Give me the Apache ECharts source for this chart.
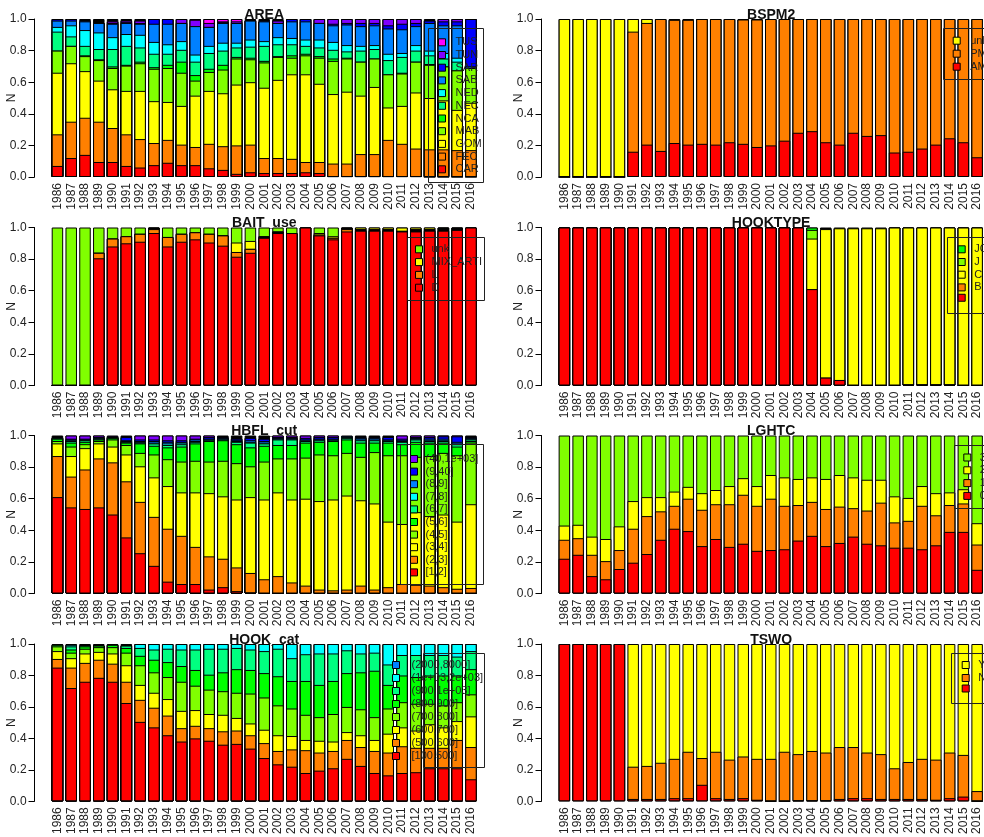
<!DOCTYPE html>
<html><head><meta charset="utf-8">
<script src="https://cdn.jsdelivr.net/npm/echarts@6/dist/echarts.min.js"></script>
<style>html,body{margin:0;padding:0;background:#fff}#c{width:984px;height:837px}</style>
</head><body><div id="c"></div>
<script>
// ---------- categories / ticks ----------
const years = ['1986','1987','1988','1989','1990','1991','1992','1993','1994','1995','1996','1997','1998','1999','2000','2001','2002','2003','2004','2005','2006','2007','2008','2009','2010','2011','2012','2013','2014','2015','2016'];
const yTicks = [0, 0.2, 0.4, 0.6, 0.8, 1.0];

// All series values are cumulative shares: the top edge of each stacked segment (bottom -> top)
const FULL = [1,1,1,1,1,1,1,1,1,1,1,1,1,1,1,1,1,1,1,1,1,1,1,1,1,1,1,1,1,1,1];

// ---------- AREA ----------
const AREA_CAR = [.07,.12,.14,.095,.095,.07,.06,.075,.09,.075,.075,.055,.045,.02,.03,.025,.025,.025,.03,.025,.005,.005,.005,.005,.005,.005,.005,0,0,0,0];
const AREA_FEC = [.27,.35,.375,.35,.31,.27,.24,.215,.235,.205,.19,.21,.195,.20,.205,.12,.12,.115,.095,.095,.085,.085,.145,.145,.235,.21,.18,.175,.175,.17,.17];
const AREA_GOM = [.66,.72,.67,.61,.555,.545,.545,.48,.475,.45,.515,.545,.53,.585,.60,.565,.615,.65,.65,.59,.525,.54,.515,.57,.44,.45,.535,.50,.485,.425,.47];
const AREA_MAB = [.80,.83,.765,.74,.69,.705,.72,.685,.69,.66,.61,.665,.68,.75,.745,.725,.76,.755,.77,.755,.735,.75,.73,.75,.65,.655,.73,.71,.70,.675,.69];
const AREA_NCA = [.80,.83,.77,.745,.70,.71,.73,.695,.71,.73,.645,.685,.71,.76,.755,.735,.765,.77,.78,.765,.75,.755,.73,.75,.65,.66,.73,.715,.70,.675,.69];
const AREA_NEC = [.92,.89,.83,.81,.81,.83,.82,.78,.78,.805,.73,.785,.80,.82,.825,.83,.84,.84,.83,.82,.805,.795,.80,.81,.74,.76,.80,.77,.75,.73,.69];
const AREA_NED = [.95,.96,.93,.915,.885,.905,.90,.855,.84,.86,.775,.83,.85,.85,.87,.86,.885,.88,.87,.87,.855,.835,.83,.835,.78,.785,.835,.80,.785,.755,.69];
const AREA_SAB = [.99,.99,.985,.975,.97,.975,.97,.97,.97,.975,.955,.95,.975,.975,.99,.985,.975,.985,.985,.975,.96,.965,.955,.96,.94,.935,.955,.975,.96,.96,.70];
const AREA_SAR = [1,1,.985,.975,.975,.98,.975,1,1,.975,.955,.95,.98,.975,.99,.985,.975,1,1,.975,.97,.975,.975,.975,.96,.97,.975,.99,.985,.985,1];
const AREA_TUN = [1,1,.985,.975,.985,.99,.99,1,1,1,.995,.975,.985,.985,.99,.985,.99,1,1,1,1,1,1,1,1,1,1,.99,1,1,1];
const AREA_TUS = [1,1,.985,.975,.985,.99,.99,1,1,1,1,1,1,1,.99,.985,.99,1,1,1,1,1,1,1,1,1,1,.99,1,1,1];

// ---------- BSPM2 ----------
const BSPM2_AM  = [0,0,0,0,0,.16,.205,.165,.215,.205,.21,.205,.22,.21,.19,.20,.23,.28,.29,.22,.205,.28,.26,.265,.155,.16,.18,.205,.245,.22,.125];
const BSPM2_PM  = [0,0,0,0,0,.92,.975,1,.995,.995,1,1,1,.997,.997,1,1,1,1,1,1,1,1,1,1,1,1,1,1,1,1];
const BSPM2_unk = [1,1,1,1,1,1,1,1,.995,.995,1,1,1,.997,.997,1,1,1,1,1,1,1,1,1,1,1,1,1,1,1,1];

// ---------- BAIT_use ----------
const BAIT_D   = [0,0,0,.805,.88,.90,.91,.965,.88,.91,.925,.905,.885,.815,.84,.935,.965,.965,1,.95,.925,.975,.98,.98,.98,.975,.975,.98,.98,.985,1];
const BAIT_L   = [0,0,0,.84,.93,.945,.96,.99,.94,.96,.97,.96,.95,.845,.865,.935,.965,.965,1,.955,.935,.99,.98,.98,.98,.975,.975,.98,.98,.985,1];
const BAIT_K   = [0,0,0,.84,.93,.945,.96,1,.94,.96,.97,.96,.95,.845,.865,.945,.975,.965,1,.955,.935,1,.99,.99,.99,.98,.99,.99,1,1,1];
const BAIT_MIX = [0,0,0,.84,.93,.945,.96,1,.94,.96,.97,.96,.95,.905,.915,.945,.975,.965,1,.965,.945,1,1,1,1,1,1,1,1,1,1];

// ---------- HOOKTYPE ----------
const HT_blank = [1,1,1,1,1,1,1,1,1,1,1,1,1,1,1,1,1,1,.61,.05,.035,0,0,0,0,.005,.005,.005,.005,0,0];
const HT_B     = [1,1,1,1,1,1,1,1,1,1,1,1,1,1,1,1,1,1,.61,.05,.035,0,0,0,0,.005,.005,.005,.005,0,0];
const HT_C     = [1,1,1,1,1,1,1,1,1,1,1,1,1,1,1,1,1,1,.93,.99,.995,.995,.995,.995,1,1,1,1,1,1,1];
const HT_J     = [1,1,1,1,1,1,1,1,1,1,1,1,1,1,1,1,1,1,.985,.99,.995,.995,.995,.995,1,1,1,1,1,1,1];
const HT_JC    = [1,1,1,1,1,1,1,1,1,1,1,1,1,1,1,1,1,1,1,.99,.995,.995,.995,.995,1,1,1,1,1,1,1];

// ---------- HBFL_cut ----------
const HB_1  = [.61,.545,.535,.545,.50,.355,.255,.175,.075,.06,.06,.025,.04,.015,.005,0,0,0,0,0,0,0,0,0,0,0,0,0,0,0,0];
const HB_2  = [.87,.74,.785,.855,.83,.71,.58,.485,.41,.365,.295,.235,.22,.165,.13,.09,.11,.07,.05,.025,.02,.025,.05,.025,.04,.06,.055,.05,.04,.03,.035];
const HB_3  = [.95,.87,.92,.95,.93,.88,.805,.735,.68,.64,.64,.635,.615,.595,.61,.595,.64,.595,.60,.585,.595,.62,.59,.57,.455,.44,.515,.49,.50,.455,.565];
const HB_4  = [.965,.93,.945,.965,.975,.94,.89,.88,.85,.835,.84,.835,.84,.825,.805,.835,.855,.855,.86,.88,.875,.89,.865,.895,.875,.875,.865,.87,.89,.875,.955];
const HB_5  = [.98,.955,.96,.975,.985,.955,.95,.935,.925,.93,.95,.965,.97,.945,.925,.935,.94,.94,.955,.96,.965,.975,.955,.955,.955,.945,.96,.955,.955,.93,.965];
const HB_6  = [.985,.965,.97,.98,.988,.96,.955,.95,.94,.945,.96,.97,.975,.96,.955,.95,.975,.975,.965,.97,.97,.985,.97,.97,.965,.96,.975,.965,.965,.945,.975];
const HB_7  = [.985,.97,.972,.982,.99,.965,.96,.955,.95,.955,.965,.975,.98,.965,.96,.955,.98,.98,.97,.975,.975,.99,.975,.975,.97,.965,.98,.97,.97,.95,.98];
const HB_8  = [.985,.975,.975,.985,.99,.97,.965,.965,.96,.96,.975,.98,.985,.97,.97,.965,.985,.985,.975,.98,.98,.995,.985,.985,.975,.97,.985,.98,.98,.96,.985];
const HB_9  = [.985,.98,.98,.99,.99,.99,.975,.975,.97,.97,.98,.99,.99,.98,.985,.98,.99,.99,.985,.99,.99,.995,.99,.99,.99,.98,.99,.99,.995,.995,.99];
const HB_10 = [.99,1,1,1,.995,.99,1,1,1,1,1,1,.99,.98,.985,.98,1,1,1,1,1,.995,.99,.99,.99,1,1,1,1,1,.99];

// ---------- LGHTC ----------
const LG_0 = [.22,.245,.11,.09,.155,.195,.25,.34,.41,.395,.30,.345,.295,.315,.27,.275,.28,.335,.365,.30,.32,.36,.315,.305,.29,.29,.28,.305,.39,.39,.15];
const LG_1 = [.34,.35,.245,.205,.275,.41,.49,.52,.555,.60,.53,.565,.565,.625,.555,.60,.555,.56,.58,.535,.55,.54,.525,.575,.45,.46,.555,.495,.56,.57,.31];
const LG_2 = [.43,.435,.36,.345,.425,.585,.61,.61,.645,.675,.635,.655,.68,.73,.68,.75,.735,.725,.735,.725,.75,.735,.72,.72,.615,.605,.68,.635,.64,.66,.445];

// ---------- HOOK_cat ----------
const HC_1 = [.85,.72,.76,.785,.76,.625,.505,.47,.42,.38,.40,.385,.36,.365,.335,.275,.235,.22,.18,.195,.21,.27,.225,.18,.165,.18,.185,.21,.21,.21,.14];
const HC_2 = [.905,.85,.88,.90,.875,.76,.645,.595,.545,.465,.48,.465,.445,.45,.42,.37,.32,.33,.325,.31,.32,.39,.345,.32,.31,.35,.34,.34,.34,.39,.345];
const HC_3 = [.955,.91,.94,.95,.94,.865,.74,.69,.65,.575,.58,.555,.55,.53,.495,.455,.42,.415,.39,.385,.38,.44,.42,.39,.43,.47,.45,.49,.47,.51,.54];
const HC_4 = [.985,.945,.97,.98,.98,.945,.865,.82,.79,.76,.735,.71,.70,.69,.685,.66,.61,.59,.55,.535,.555,.60,.585,.535,.59,.63,.62,.62,.61,.63,.68];
const HC_5 = [.995,.965,.985,.99,.995,.975,.925,.90,.885,.86,.835,.805,.82,.84,.835,.815,.795,.765,.765,.74,.765,.815,.82,.83,.74,.80,.79,.80,.80,.80,.84];
const HC_6 = [.995,.985,.99,.99,.995,.99,.975,.965,.97,.965,.965,.97,.97,.975,.965,.955,.97,.91,.935,.94,.94,.96,.94,.945,.87,.93,.93,.93,.93,.92,.955];
const HC_7 = [.995,.995,.99,.99,.995,.99,1,1,1,1,1,1,1,1,1,1,1,1,1,1,1,1,1,1,1,1,1,1,1,1,1];
const HC_8 = [.995,.995,.99,.99,.995,.99,1,1,1,1,1,1,1,1,1,1,1,1,1,1,1,1,1,1,1,1,1,1,1,1,1];

// ---------- TSWO ----------
const TS_blank = [1,1,1,1,1,.015,.015,.015,.02,.02,.105,.02,.015,.02,.01,0,0,.005,.005,.005,.015,.02,.02,.015,.015,.015,.015,.01,.02,.03,0];
const TS_N     = [1,1,1,1,1,.22,.225,.245,.27,.315,.275,.315,.265,.285,.27,.27,.315,.30,.32,.31,.345,.345,.31,.30,.21,.25,.27,.265,.31,.295,.065];

// ---------- styling ----------
const RED='#FF0000', ORA='#FF8000', YEL='#FFFF00', CHA='#80FF00', GRN='#00FF00', SPR='#00FF80',
      CYA='#00FFFF', AZU='#0080FF', BLU='#0000FF', VIO='#8000FF', MAG='#FF00FF', BLK='#000000';
const FONT = '"Liberation Sans", Arial, sans-serif';
const TXT = '#222';
const COL_X = [50.55, 557.5], GRID_W = 427.3;
const ROW_Y = [19, 227.5, 435.5, 644], GRID_H = 158;

const S = (label, color, data, legend = true) => ({label, color, data, legend});

const panels = [
  {id:'AREA', col:0, row:0, stack:[S('CAR',RED,AREA_CAR),S('FEC',ORA,AREA_FEC),S('GOM',YEL,AREA_GOM),S('MAB',CHA,AREA_MAB),
     S('NCA',GRN,AREA_NCA),S('NEC',SPR,AREA_NEC),S('NED',CYA,AREA_NED),S('SAB',AZU,AREA_SAB),S('SAR',BLU,AREA_SAR),
     S('TUN',VIO,AREA_TUN),S('TUS',MAG,AREA_TUS),S('k',BLK,FULL,false)],
   leg:{x:438, y:42.3, gap:12.7, pad:5}, box:[428,28,55,154]},
  {id:'BSPM2', col:1, row:0, stack:[S('AM',RED,BSPM2_AM),S('PM',ORA,BSPM2_PM),S('unk',YEL,BSPM2_unk),S('k',BLK,FULL,false)],
   leg:{x:952.7, y:40.7, gap:13, pad:5}, box:[942.7,28,60,51]},
  {id:'BAIT_use', col:0, row:1, stack:[S('D',RED,BAIT_D),S('L',ORA,BAIT_L),S('k',BLK,BAIT_K,false),S('MIX_ARTI',YEL,BAIT_MIX),S('unk',CHA,FULL)],
   leg:{x:415, y:249.3, gap:12.8, pad:4}, box:[406.7,237.3,76.6,62.7]},
  {id:'HOOKTYPE', col:1, row:1, stack:[S('',RED,HT_blank),S('B',ORA,HT_B),S('C',YEL,HT_C),S('J',CHA,HT_J),S('JC',GRN,HT_JC),S('k',BLK,FULL,false)],
   leg:{x:957.7, y:249.3, gap:12.7, pad:4}, box:[947,237.3,60,76]},
  {id:'HBFL_cut', col:0, row:2, stack:[S('[1,2]',RED,HB_1),S('(2,3]',ORA,HB_2),S('(3,4]',YEL,HB_3),S('(4,5]',CHA,HB_4),S('(5,6]',GRN,HB_5),
     S('(6,7]',SPR,HB_6),S('(7,8]',CYA,HB_7),S('(8,9]',AZU,HB_8),S('(9,40]',BLU,HB_9),S('(40,1e+03]',VIO,HB_10),S('k',BLK,FULL,false)],
   leg:{x:410, y:459, gap:12.6, pad:3}, box:[400,444.3,83.3,140]},
  {id:'LGHTC', col:1, row:2, stack:[S('0',RED,LG_0),S('1',ORA,LG_1),S('2',YEL,LG_2),S('3',CHA,FULL)],
   leg:{x:963.3, y:457.5, gap:12.8, pad:4}, box:[953.7,445,60,63.3]},
  {id:'HOOK_cat', col:0, row:3, stack:[S('[100,500]',RED,HC_1),S('(500,600]',ORA,HC_2),S('(600,700]',YEL,HC_3),S('(700,800]',CHA,HC_4),
     S('(800,900]',GRN,HC_5),S('(900,1e+03]',SPR,HC_6),S('(1e+03,2e+03]',CYA,HC_7),S('(2000,8000]',AZU,HC_8),S('k',BLK,FULL,false)],
   leg:{x:392, y:665, gap:13, pad:7}, box:[422.7,653.3,61.3,114]},
  {id:'TSWO', col:1, row:3, stack:[S('',RED,TS_blank),S('N',ORA,TS_N),S('Y',YEL,FULL)],
   leg:{x:961.7, y:665, gap:13, pad:4}, box:[951.3,653.3,60,50]}
];

const grids=[], xAxes=[], yAxes=[], series=[], legends=[], titles=[], boxes=[];
panels.forEach((p, i) => {
  const gx = COL_X[p.col], gy = ROW_Y[p.row];
  grids.push({left:gx, top:gy, width:GRID_W, height:GRID_H});
  xAxes.push({type:'category', gridIndex:i, data:years, boundaryGap:true,
    axisLine:{show:false}, axisTick:{show:false}, splitLine:{show:false},
    axisLabel:{rotate:90, interval:0, fontSize:12, margin:6, color:TXT, fontFamily:FONT}});
  yAxes.push({type:'value', gridIndex:i, min:yTicks[0], max:yTicks[yTicks.length-1], interval:0.2, offset:16,
    name:'N', nameLocation:'middle', nameGap:17, nameMoveOverlap:false,
    nameTextStyle:{fontSize:12, color:TXT, fontFamily:FONT},
    axisLine:{show:true, lineStyle:{color:'#000', width:1}},
    axisTick:{show:true, length:6, lineStyle:{color:'#000', width:1}},
    splitLine:{show:false},
    axisLabel:{formatter:v => v.toFixed(1), margin:8, fontSize:12, color:TXT, fontFamily:FONT}});
  // overlapping cumulative bars: drawn top category first, lower categories in front
  p.stack.slice().reverse().forEach((s, k) => {
    series.push({type:'bar', name:p.id + '|' + (s.legend ? s.label : '#k' + k), xAxisIndex:i, yAxisIndex:i,
      data:s.data, barWidth:11.49, barGap:'-100%', silent:true, animation:false, z:5,
      itemStyle:{color:s.color, borderColor:'#000', borderWidth:1}});
  });
  legends.push({orient:'vertical', left:p.leg.x, top:p.leg.y - p.leg.gap/2, padding:0, itemGap:0, z:20,
    itemWidth:7, itemHeight:7, icon:'rect', selectedMode:false,
    itemStyle:{borderColor:'#000', borderWidth:1},
    formatter:n => n.slice(n.indexOf('|') + 1),
    textStyle:{fontSize:11, color:TXT, fontFamily:FONT, lineHeight:p.leg.gap, padding:[0,0,0,p.leg.pad]},
    data:p.stack.filter(s => s.legend).reverse().map(s => p.id + '|' + s.label)});
  titles.push({text:p.id, left:gx + GRID_W/2, top:gy - 12, textAlign:'center', z:1, padding:0,
    textStyle:{fontSize:14, fontWeight:'bold', color:'#111', fontFamily:FONT, lineHeight:16}});
  const b = p.box;
  boxes.push({type:'rect', z:100, silent:true, shape:{x:Math.round(b[0])+0.5, y:Math.round(b[1])+0.5, width:Math.round(b[2]), height:Math.round(b[3])},
    style:{fill:'rgba(0,0,0,0)', stroke:'#222', lineWidth:1}});
});

const chart = echarts.init(document.getElementById('c'), null, {renderer:'canvas'});
chart.setOption({
  backgroundColor:'#fff', animation:false,
  textStyle:{fontFamily:FONT},
  title:titles, grid:grids, xAxis:xAxes, yAxis:yAxes, legend:legends, series:series,
  graphic:{elements:boxes}
});
</script></body></html>
